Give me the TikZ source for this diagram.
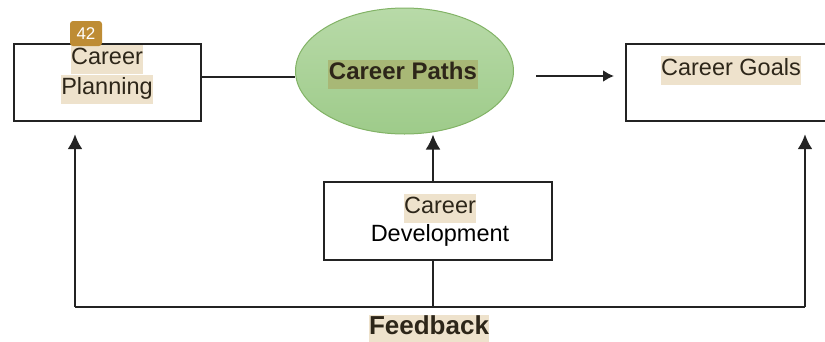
\documentclass[tikz,border=0pt]{standalone}
\usepackage{fontspec}
\setmainfont{Liberation Sans}
\usetikzlibrary{arrows.meta,shapes.geometric}
\definecolor{hlbeige}{RGB}{238,226,204}
\definecolor{hlolive}{RGB}{168,184,118}
\definecolor{linegray}{RGB}{35,35,35}
\definecolor{inkbrown}{RGB}{45,38,25}
\definecolor{badgegold}{RGB}{190,140,52}
\definecolor{greentop}{RGB}{184,218,168}
\definecolor{greenbot}{RGB}{158,203,138}
\definecolor{greenedge}{RGB}{130,179,102}
\newcommand{\hl}[2][hlbeige]{{\setlength{\fboxsep}{0.5pt}\colorbox{#1}{\strut #2}}}
\tikzset{
  boxnode/.style={draw=linegray,line width=2.3pt,rectangle,inner sep=0pt},
  txt/.style={align=center,inner sep=0pt,text=inkbrown,font=\fontsize{23.5}{28}\selectfont},
  arr/.style={draw=linegray,line width=2.3pt,-{Latex[length=15pt,width=15pt]}},
  smallarr/.style={draw=linegray,line width=2.3pt,-{Latex[length=11pt,width=12pt]}},
  ln/.style={draw=linegray,line width=2.3pt}
}
\begin{document}
\begin{tikzpicture}[x=1pt,y=-1pt]
\useasboundingbox (0,0) rectangle (825,341);

\node[boxnode,minimum width=187pt,minimum height=77pt] (plan) at (107.5,82.5) {};
\node[boxnode,minimum width=200pt,minimum height=77pt] (goals) at (726,82.5) {};
\node[boxnode,minimum width=228pt,minimum height=78pt] (dev) at (438,221) {};
\node[ellipse,draw=greenedge,line width=1pt,top color=greentop,bottom color=greenbot,
      minimum width=218pt,minimum height=126pt,inner sep=0pt] (paths) at (404.5,71) {};

\node[txt] (plantxt) at (107,74) {\hl{Career}\\\hl{Planning}};
\node[txt] (goalstxt) at (731,70) {\hl{Career Goals}};
\node[txt] (devtxt) at (440,220) {\hl{Career}\\{\color{black}Development}};
\node[txt,font=\fontsize{24}{28}\selectfont\bfseries] (pathstxt) at (403,74) {\hl[hlolive]{Career Paths}};
\node[txt,font=\fontsize{26}{28}\selectfont\bfseries] (fbtxt) at (429,329) {\hl{Feedback}};

% badge
\node[fill=badgegold,rounded corners=3pt,minimum width=32pt,minimum height=25pt,
      inner sep=0pt,text=white,font=\fontsize{17}{18}\selectfont] (badge) at (86,33.5) {42};

\coordinate (a1) at (536,76);
\coordinate (a2) at (614,76);
\coordinate (fb) at (433,307);
\coordinate (fl) at (75,307);
\coordinate (fr) at (805,307);

\draw[ln] ([yshift=5.5pt]plan.east) -- ([yshift=5.5pt]plan.east -| paths.west);
\draw[smallarr] (a1) -- (a2);
\draw[arr] (dev.north -| fb) -- (fb |- paths.south);
\draw[ln] (dev.south -| fb) -- (fb);
\draw[ln] (fl) -- (fr);
\draw[arr] (fl) -- ([yshift=-12pt]fl |- plan.south);
\draw[arr] (fr) -- ([yshift=-12pt]fr |- goals.south);
\end{tikzpicture}
\end{document}
